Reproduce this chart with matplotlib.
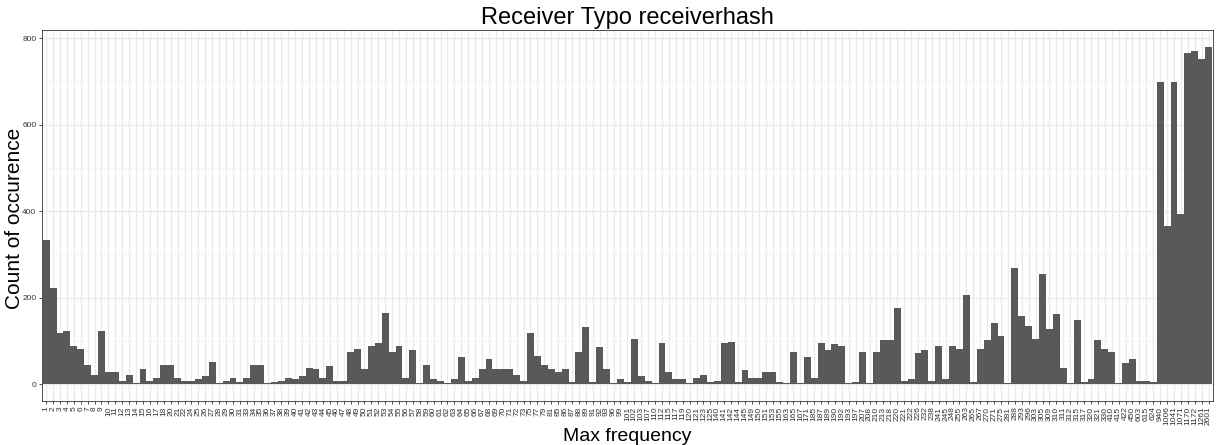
import matplotlib
matplotlib.use("Agg")
import matplotlib.pyplot as plt
import numpy as np

plt.rcParams['font.family'] = ['Liberation Sans', 'DejaVu Sans']

# max frequency categories (discrete axis)
freq_labels = [str(v) for v in (
    list(range(1, 19))
    + [20, 21, 22, 24, 25, 26, 27, 28, 29, 30]
    + [31, 33, 34, 35, 36, 37, 38, 39, 40, 41, 42, 43, 44, 45]
    + list(range(46, 74))
    + [75, 77, 79, 81, 85, 86, 87, 88, 89, 91, 92, 93, 96, 99]
    + [101, 102, 103, 107, 110, 112, 115, 117, 119, 120, 121, 123, 125, 140]
    + [141, 142, 144, 145, 149, 150, 151, 153, 155, 163, 165, 167, 171, 185]
    + [187, 189, 190, 192, 193, 197, 207, 208, 210, 213, 218, 220, 221, 222]
    + [226, 232, 238, 241, 245, 248, 255, 263, 265, 267, 270, 271, 275, 281]
    + [288, 293, 296, 303, 305, 309, 310, 311, 312, 315, 317, 320, 321, 330]
    + [410, 415, 422, 450, 603, 615, 624, 940, 1006, 1041, 1071, 1170, 1172, 1261, 2601]
)]

counts = [334, 223, 117, 122, 87, 81, 43, 22, 122, 29, 29, 6, 20,
          2, 34, 6, 13, 43, 43, 15, 6, 6, 11, 18, 52, 2, 6, 15,
          4, 13, 45, 45, 2, 4, 8, 13, 11, 18, 38, 36, 13, 41,
          8, 8, 73, 80, 34, 89, 94, 165, 73, 87, 15, 78, 2, 43,
          11, 6, 2, 11, 62, 6, 15, 36, 57, 36, 34, 36, 22, 8,
          117, 66, 43, 36, 29, 34, 4, 73, 133, 4, 85, 36, 2, 11,
          4, 105, 18, 8, 2, 96, 29, 11, 11, 2, 15, 22, 4, 6,
          94, 98, 4, 32, 13, 13, 27, 29, 4, 2, 73, 2, 62, 15,
          94, 78, 92, 89, 2, 4, 75, 2, 73, 103, 101, 175, 8, 11,
          71, 78, 8, 87, 11, 89, 80, 205, 4, 82, 101, 142, 112, 2,
          269, 158, 135, 105, 255, 128, 161, 38, 2, 149, 4, 11, 103, 82,
          75, 2, 48, 57, 6, 6, 4,
          698, 365, 698, 393, 766, 770, 752, 780]

y_ticks = [0, 200, 400, 600, 800]

fig = plt.figure(figsize=(12.17, 4.45), dpi=100)
ax = fig.add_axes([0.0345, 0.099, 0.962, 0.834])

x = np.arange(len(counts))
ax.bar(x, counts, width=1.0, color='#595959', zorder=3)

ymax = max(counts)
ax.set_xlim(-0.6, len(counts) - 1 + 0.6)
ax.set_ylim(-0.05 * ymax, 1.05 * ymax)

ax.set_xticks(x)
ax.set_xticklabels(freq_labels, rotation=90, fontsize=6, color='#333333')
ax.set_yticks(y_ticks)
ax.set_yticklabels([str(v) for v in y_ticks], fontsize=6, color='#333333')
ax.set_yticks([100, 300, 500, 700], minor=True)

ax.grid(True, which='major', color='#ebebeb', linewidth=1.0, zorder=0)
ax.grid(True, which='minor', axis='y', color='#f2f2f2', linewidth=0.5, zorder=0)
ax.set_axisbelow(True)
ax.tick_params(axis='both', which='major', length=2.5, width=0.6, color='#333333', pad=1.5)
ax.tick_params(axis='y', which='minor', length=0)
for s in ax.spines.values():
    s.set_color('#333333')
    s.set_linewidth(0.6)

ax.set_title('Receiver Typo receiverhash', fontsize=17, pad=4)
fig.text(0.515, 0.001, 'Max frequency', fontsize=14, ha='center', va='bottom')
fig.text(0.004, 0.51, 'Count of occurence', fontsize=15, rotation=90,
         ha='left', va='center')

fig.savefig('out.png', dpi=100)
